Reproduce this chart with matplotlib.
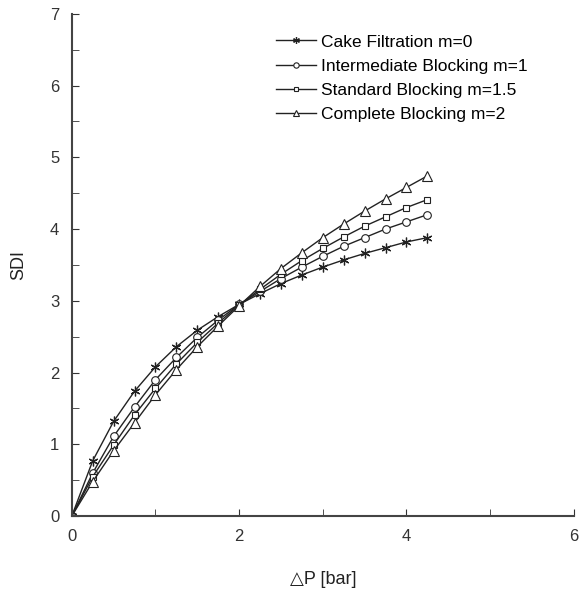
import matplotlib
matplotlib.use('Agg')
import matplotlib.pyplot as plt
from matplotlib.ticker import MultipleLocator

plt.rcParams['font.family'] = ['Liberation Sans', 'DejaVu Sans']

# pressao (bar)
dp = [0, 0.25, 0.5, 0.75, 1.0, 1.25, 1.5, 1.75, 2.0, 2.25, 2.5, 2.75,
      3.0, 3.25, 3.5, 3.75, 4.0, 4.25]

sdi_cake = [0, 0.77, 1.32, 1.74, 2.08, 2.36, 2.59, 2.78, 2.95, 3.10, 3.24,
            3.36, 3.47, 3.57, 3.66, 3.74, 3.82, 3.88]
sdi_inter = [0, 0.60, 1.11, 1.52, 1.90, 2.21, 2.49, 2.73, 2.95, 3.13, 3.31,
             3.47, 3.62, 3.76, 3.88, 4.00, 4.10, 4.20]
sdi_std = [0, 0.55, 0.99, 1.41, 1.78, 2.12, 2.42, 2.69, 2.94, 3.16, 3.37,
           3.56, 3.73, 3.89, 4.04, 4.17, 4.30, 4.41]
sdi_comp = [0, 0.48, 0.91, 1.30, 1.69, 2.04, 2.36, 2.65, 2.93, 3.20, 3.45,
            3.67, 3.88, 4.07, 4.25, 4.42, 4.58, 4.74]

labels = ['Cake Filtration m=0', 'Intermediate Blocking m=1',
          'Standard Blocking m=1.5', 'Complete Blocking m=2']

fig = plt.figure(figsize=(5.79, 5.98), dpi=100)
ax = fig.add_axes([0.124, 0.137, 0.867, 0.840])

cor = '#222222'
ax.plot(dp, sdi_cake, c=cor, lw=1, marker=(6, 2, 0), markersize=7,
        markeredgewidth=0.9, label=labels[0])
ax.plot(dp, sdi_inter, c=cor, lw=1, marker='o', markersize=5.5,
        markerfacecolor='white', markeredgewidth=0.8, label=labels[1])
ax.plot(dp, sdi_std, c=cor, lw=1, marker='s', markersize=5,
        markerfacecolor='white', markeredgewidth=0.8, label=labels[2])
ax.plot(dp, sdi_comp, c=cor, lw=1, marker='^', markersize=6.5,
        markerfacecolor='white', markeredgewidth=0.8, label=labels[3])

ax.set_xlim(0, 6)
ax.set_ylim(0, 7)
ax.xaxis.set_major_locator(MultipleLocator(2))
ax.xaxis.set_minor_locator(MultipleLocator(1))
ax.yaxis.set_major_locator(MultipleLocator(1))
ax.yaxis.set_minor_locator(MultipleLocator(0.5))
ax.tick_params(which='both', direction='in', labelsize=12, colors='#333333')
ax.tick_params(which='major', length=5, pad=9)
ax.tick_params(which='minor', length=5)
ax.spines['top'].set_visible(False)
ax.spines['right'].set_visible(False)
ax.spines['left'].set_color('#444444')
ax.spines['bottom'].set_color('#444444')
ax.spines['left'].set_linewidth(1.5)
ax.spines['bottom'].set_linewidth(1.5)

ax.set_xlabel('\u25b3P [bar]', fontsize=13, labelpad=20, color='#222222')
ax.set_ylabel('SDI', fontsize=13, labelpad=16, color='#222222')

ax.legend(loc='upper right', bbox_to_anchor=(0.94, 0.99), frameon=False,
          fontsize=12.5, markerscale=0.7, handlelength=2.3, handletextpad=0.3,
          labelspacing=0.52)

fig.savefig('out.png', dpi=100)
